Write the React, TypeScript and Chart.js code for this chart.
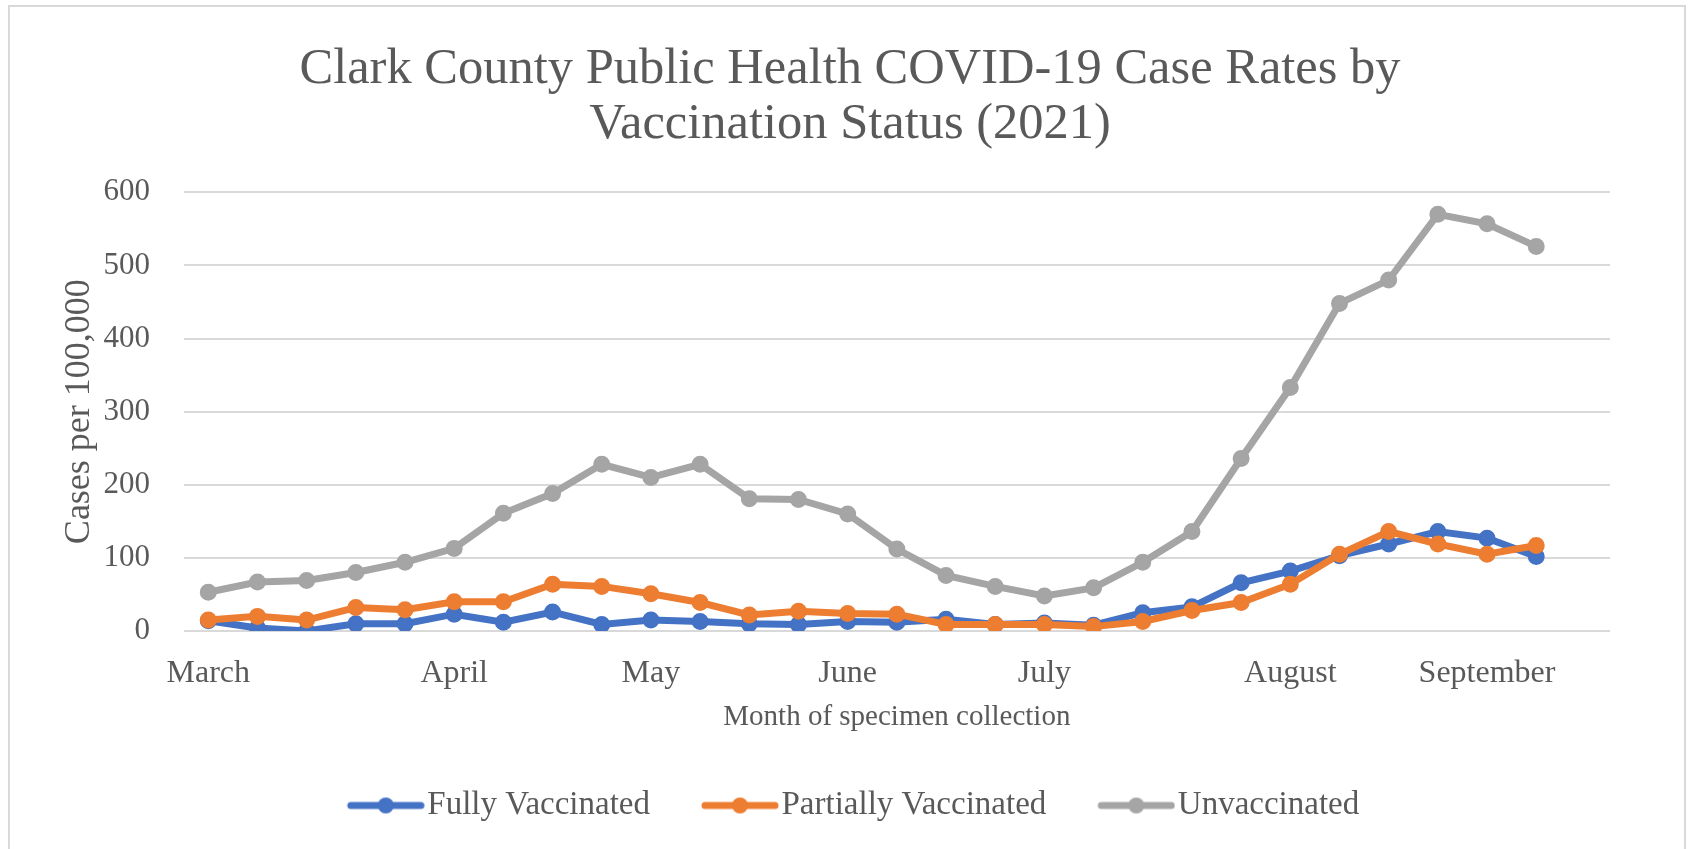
import { useEffect, useRef } from 'react';
import { Chart, registerables } from 'chart.js';

Chart.register(...registerables);

const TITLE_LINES = ['Clark County Public Health COVID-19 Case Rates by', 'Vaccination Status (2021)'];
const X_TITLE = 'Month of specimen collection';
const Y_TITLE = 'Cases per 100,000';

// weekly categories; only the first week of each month carries a label
const WEEK_LABELS = [
  'March', '', '', '', '',
  'April', '', '', '',
  'May', '', '', '',
  'June', '', '', '',
  'July', '', '', '', '',
  'August', '', '', '',
  'September', '', '',
];

const SERIES_NAMES = ['Fully Vaccinated', 'Partially Vaccinated', 'Unvaccinated'];
const FULLY = [14, 4, 0, 10, 10, 23, 12, 26, 9, 15, 13, 10, 9, 13, 12, 16, 9, 11, 8, 25, 33, 66, 82, 103, 119, 136, 127, 102];
const PARTIALLY = [15, 20, 15, 32, 29, 40, 40, 64, 61, 51, 39, 22, 27, 24, 23, 9, 9, 9, 6, 13, 28, 39, 64, 105, 136, 119, 105, 117];
const UNVACCINATED = [53, 67, 69, 80, 94, 113, 161, 188, 228, 210, 228, 181, 180, 160, 112, 76, 61, 48, 59, 94, 136, 236, 333, 448, 480, 570, 557, 526];

const COLORS = ['#4472C4', '#ED7D31', '#A5A5A5'];
const Y_MIN = 0;
const Y_MAX = 600;
const Y_STEP = 100;

const FONT = 'Liberation Serif';
const TEXT = '#595959';

function makeIcon(color: string) {
  const c = document.createElement('canvas');
  c.width = 98;
  c.height = 20;
  const ctx = c.getContext('2d')!;
  ctx.strokeStyle = color;
  ctx.lineWidth = 7;
  ctx.lineCap = 'round';
  ctx.beginPath();
  ctx.moveTo(24, 10);
  ctx.lineTo(94, 10);
  ctx.stroke();
  ctx.fillStyle = color;
  ctx.beginPath();
  ctx.arc(59, 10, 8, 0, Math.PI * 2);
  ctx.fill();
  return c;
}

export default function App() {
  const ref = useRef<HTMLCanvasElement>(null);

  useEffect(() => {
    const canvas = ref.current!;
    const icons = COLORS.map(makeIcon);
    const seriesData = [FULLY, PARTIALLY, UNVACCINATED];
    const chart = new Chart(canvas, {
      type: 'line',
      data: {
        labels: WEEK_LABELS,
        datasets: seriesData.map((d, i) => ({
          label: SERIES_NAMES[i],
          data: d,
          borderColor: COLORS[i],
          backgroundColor: COLORS[i],
          pointBackgroundColor: COLORS[i],
          pointBorderColor: COLORS[i],
          borderWidth: 7,
          pointRadius: 7.5,
          pointBorderWidth: 2,
          tension: 0,
          order: 3 - i,
        })),
      },
      options: {
        responsive: false,
        animation: false,
        layout: { padding: { left: 20, right: 14, top: 0, bottom: 17 } },
        plugins: {
          title: {
            display: true,
            text: TITLE_LINES,
            color: TEXT,
            font: { family: FONT, size: 50.5, weight: 'normal', lineHeight: 1.1 },
            padding: { top: 41.5, bottom: 39.7 },
          },
          legend: {
            position: 'bottom',
            labels: {
              usePointStyle: true,
              pointStyleWidth: 70,
              padding: 45,
              color: TEXT,
              font: { family: FONT, size: 33 },
              generateLabels: (ch: any) => {
                const items = (Chart.defaults.plugins.legend.labels as any).generateLabels(ch);
                items.sort((a: any, b: any) => a.datasetIndex - b.datasetIndex);
                return items.map((it: any) => ({ ...it, pointStyle: icons[it.datasetIndex], fontColor: TEXT }));
              },
            },
          },
          tooltip: { enabled: false },
        },
        scales: {
          x: {
            offset: true,
            grid: { display: false, drawTicks: false },
            border: { display: false },
            ticks: {
              autoSkip: false,
              maxRotation: 0,
              minRotation: 0,
              padding: 23.8,
              color: TEXT,
              font: { family: FONT, size: 32 },
            },
            title: {
              display: true,
              text: X_TITLE,
              color: TEXT,
              font: { family: FONT, size: 29 },
              padding: { top: -17.4, bottom: 9.6 },
            },
          },
          y: {
            min: Y_MIN,
            max: Y_MAX,
            ticks: {
              stepSize: Y_STEP,
              padding: 33.7,
              color: TEXT,
              font: { family: FONT, size: 31 },
            },
            grid: { color: '#D9D9D9', lineWidth: 2, drawTicks: false },
            border: { display: false },
            title: {
              display: true,
              text: Y_TITLE,
              color: TEXT,
              font: { family: FONT, size: 36 },
              padding: { top: 37.5, bottom: -30.9 },
            },
          },
          y2: {
            position: 'right',
            display: true,
            grid: { display: false, drawTicks: false },
            border: { display: false },
            ticks: { display: false },
            title: { display: true, text: '', font: { size: 10 }, padding: { top: 58, bottom: 0 } },
          },
        },
      } as any,
    });
    return () => chart.destroy();
  }, []);

  return (
    <div style={{ position: 'fixed', left: 0, top: 0, width: 1694, height: 849, background: '#fff', overflow: 'hidden' }}>
      <canvas ref={ref} width={1694} height={849} style={{ display: 'block', width: 1694, height: 849 }} />
      <div
        style={{
          position: 'absolute',
          left: 8,
          top: 5,
          width: 1678,
          height: 900,
          border: '2px solid #D9D9D9',
          borderBottom: 'none',
          boxSizing: 'border-box',
          pointerEvents: 'none',
        }}
      />
    </div>
  );
}
